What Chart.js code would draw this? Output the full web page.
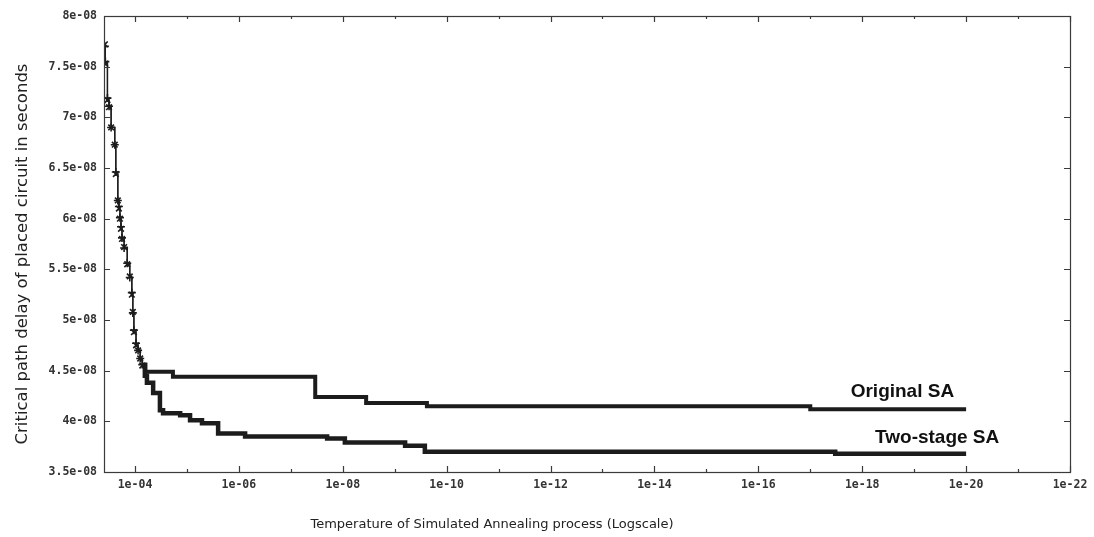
<!DOCTYPE html>
<html>
<head>
<meta charset="utf-8">
<script src="https://cdn.jsdelivr.net/npm/chart.js@4/dist/chart.umd.min.js"></script>
<style>
  html, body { margin: 0; padding: 0; background: #ffffff; }
  #wrap { width: 1094px; height: 537px; position: relative; }
</style>
</head>
<body>
<div id="wrap"><canvas id="c" width="1094" height="537"></canvas></div>
<script>
// ---- Data (temperature, delay in seconds) ----
const originalTemps = [3.80e-4, 3.72e-4, 3.39e-4, 3.16e-4, 2.88e-4, 2.45e-4, 2.34e-4, 2.14e-4, 2.04e-4, 1.95e-4,
  1.86e-4, 1.78e-4, 1.62e-4, 1.41e-4, 1.26e-4, 1.15e-4, 1.10e-4, 1.05e-4, 9.55e-5, 8.71e-5,
  7.94e-5, 7.24e-5, 6.31e-5, 1.86e-5, 3.39e-8, 3.55e-9, 2.40e-10, 1.0e-17, 1e-20];
const originalDelay = [7.70e-8, 7.55e-8, 7.19e-8, 7.11e-8, 6.90e-8, 6.73e-8, 6.46e-8, 6.18e-8, 6.12e-8, 6.01e-8,
  5.92e-8, 5.81e-8, 5.71e-8, 5.56e-8, 5.42e-8, 5.27e-8, 5.07e-8, 4.90e-8, 4.77e-8, 4.70e-8,
  4.62e-8, 4.56e-8, 4.49e-8, 4.44e-8, 4.24e-8, 4.18e-8, 4.15e-8, 4.12e-8, 4.12e-8];

const twoStageTemps = [3.80e-4, 3.72e-4, 3.39e-4, 3.16e-4, 2.88e-4, 2.45e-4, 2.34e-4, 2.14e-4, 2.04e-4, 1.95e-4,
  1.86e-4, 1.78e-4, 1.62e-4, 1.41e-4, 1.26e-4, 1.15e-4, 1.10e-4, 1.05e-4, 9.55e-5, 8.71e-5,
  7.94e-5, 7.24e-5, 6.46e-5, 5.89e-5, 4.47e-5, 3.31e-5, 2.88e-5, 1.35e-5, 8.71e-6, 5.13e-6,
  2.51e-6, 7.59e-7, 2.0e-8, 9.12e-9, 6.31e-10, 2.63e-10, 3.31e-18, 1e-20];
const twoStageDelay = [7.72e-8, 7.53e-8, 7.17e-8, 7.10e-8, 6.90e-8, 6.73e-8, 6.44e-8, 6.18e-8, 6.10e-8, 6.00e-8,
  5.90e-8, 5.80e-8, 5.72e-8, 5.55e-8, 5.43e-8, 5.25e-8, 5.08e-8, 4.88e-8, 4.75e-8, 4.70e-8,
  4.62e-8, 4.55e-8, 4.45e-8, 4.38e-8, 4.28e-8, 4.11e-8, 4.08e-8, 4.06e-8, 4.01e-8, 3.98e-8,
  3.88e-8, 3.85e-8, 3.83e-8, 3.79e-8, 3.76e-8, 3.70e-8, 3.68e-8, 3.68e-8];

const xTickExponents = [-4, -5, -6, -7, -8, -9, -10, -11, -12, -13, -14, -15, -16, -17, -18, -19, -20, -21, -22];
const xLabelExponents = [-4, -6, -8, -10, -12, -14, -16, -18, -20, -22];
const yTickValues = [3.5e-8, 4e-8, 4.5e-8, 5e-8, 5.5e-8, 6e-8, 6.5e-8, 7e-8, 7.5e-8, 8e-8];
const yTickLabels = ['3.5e-08', '4e-08', '4.5e-08', '5e-08', '5.5e-08', '6e-08', '6.5e-08', '7e-08', '7.5e-08', '8e-08'];

const seriesNames = ['Original SA', 'Two-stage SA'];
const labelAnchorTemps = [1.7e-20, 2.3e-21];
const xTitle = 'Temperature of Simulated Annealing process (Logscale)';
const yTitle = 'Critical path delay of placed circuit in seconds';

const X_MIN = 1e-22, X_MAX = 3.95e-4, Y_MIN = 3.5e-8, Y_MAX = 8e-8;
const FAST_PHASE_POINTS = 22; // points of the steep initial descent (thin line + markers)

function pts(xs, ys) { return xs.map((x, i) => ({ x: x, y: ys[i] })); }
function fmtExp(e) { const a = Math.abs(e); return '1e' + (e < 0 ? '-' : '+') + (a < 10 ? '0' + a : '' + a); }

const INK = '#1c1c1c';
const AXIS = '#3a3a3a';
const MONO = '"DejaVu Sans Mono", "Liberation Mono", monospace';
const SANS = '"DejaVu Sans", "Open Sans", sans-serif';

const decorPlugin = {
  id: 'decor',
  afterDraw(chart) {
    const ctx = chart.ctx, a = chart.chartArea;
    const xs = chart.scales.x, ys = chart.scales.y;
    ctx.save();
    ctx.strokeStyle = AXIS;
    ctx.lineWidth = 1.2;
    ctx.strokeRect(a.left + 0.5, a.top + 0.5, a.right - a.left, a.bottom - a.top);
    xTickExponents.forEach(e => {
      const px = Math.round(xs.getPixelForValue(Math.pow(10, e))) + 0.5;
      const len = xLabelExponents.includes(e) ? 6 : 3;
      ctx.beginPath();
      ctx.moveTo(px, a.bottom); ctx.lineTo(px, a.bottom - len);
      ctx.moveTo(px, a.top); ctx.lineTo(px, a.top + len);
      ctx.stroke();
    });
    yTickValues.forEach(v => {
      const py = Math.round(ys.getPixelForValue(v)) + 0.5;
      ctx.beginPath();
      ctx.moveTo(a.left, py); ctx.lineTo(a.left + 6, py);
      ctx.moveTo(a.right, py); ctx.lineTo(a.right - 6, py);
      ctx.stroke();
    });
    ctx.fillStyle = '#222';
    ctx.textAlign = 'center';
    ctx.textBaseline = 'middle';
    ctx.font = '13px ' + SANS;
    ctx.fillText(xTitle, 492, 525);
    ctx.save();
    ctx.translate(23, 254);
    ctx.rotate(-Math.PI / 2);
    ctx.font = '16.5px ' + SANS;
    ctx.fillText(yTitle, 0, 0);
    ctx.restore();
    ctx.font = 'bold 19px "Liberation Sans", Arial, sans-serif';
    ctx.fillStyle = '#111';
    ctx.textAlign = 'right';
    ctx.textBaseline = 'alphabetic';
    const endO = originalDelay[originalDelay.length - 1];
    const endT = twoStageDelay[twoStageDelay.length - 1];
    ctx.fillText(seriesNames[0], xs.getPixelForValue(labelAnchorTemps[0]), ys.getPixelForValue(endO) - 12);
    ctx.fillText(seriesNames[1], xs.getPixelForValue(labelAnchorTemps[1]), ys.getPixelForValue(endT) - 11);
    ctx.restore();
  }
};

function makeDataset(label, xs, ys, style, width) {
  return {
    label: label,
    data: pts(xs, ys),
    stepped: 'before',
    borderColor: INK,
    backgroundColor: INK,
    borderWidth: width,
    segment: {
      borderWidth: c => (c.p1DataIndex < FAST_PHASE_POINTS ? 1.3 : width)
    },
    pointStyle: style,
    pointRadius: c => (c.dataIndex < FAST_PHASE_POINTS ? 4 : 0),
    pointBorderWidth: 1.6,
    pointBorderColor: INK,
    fill: false
  };
}

new Chart(document.getElementById('c'), {
  type: 'line',
  data: {
    datasets: [
      makeDataset(seriesNames[0], originalTemps, originalDelay, 'cross', 4),
      makeDataset(seriesNames[1], twoStageTemps, twoStageDelay, 'crossRot', 4.5)
    ]
  },
  plugins: [decorPlugin],
  options: {
    responsive: false,
    animation: false,
    devicePixelRatio: 1,
    layout: { padding: { left: 0, right: 24, top: 16, bottom: 0 } },
    plugins: { legend: { display: false }, tooltip: { enabled: false }, title: { display: false } },
    elements: { line: { tension: 0 } },
    scales: {
      x: {
        type: 'logarithmic',
        reverse: true,
        min: X_MIN,
        max: X_MAX,
        grid: { display: false, drawTicks: false },
        border: { display: false },
        afterBuildTicks(scale) {
          scale.ticks = xLabelExponents.map(e => ({ value: Math.pow(10, e) }));
        },
        afterFit(scale) { scale.height = 65; },
        ticks: {
          autoSkip: false,
          maxRotation: 0,
          padding: 6,
          color: '#333',
          font: { family: MONO, size: 11.5, weight: 'bold' },
          callback(v) { return fmtExp(Math.round(Math.log10(v))); }
        }
      },
      y: {
        type: 'linear',
        min: Y_MIN,
        max: Y_MAX,
        grid: { display: false, drawTicks: false },
        border: { display: false },
        afterBuildTicks(scale) {
          scale.ticks = yTickValues.map(v => ({ value: v }));
        },
        afterFit(scale) { scale.width = 104; },
        ticks: {
          autoSkip: false,
          padding: 7,
          color: '#333',
          font: { family: MONO, size: 11.5, weight: 'bold' },
          callback(v, i) { return yTickLabels[i]; }
        }
      }
    }
  }
});
</script>
</body>
</html>
